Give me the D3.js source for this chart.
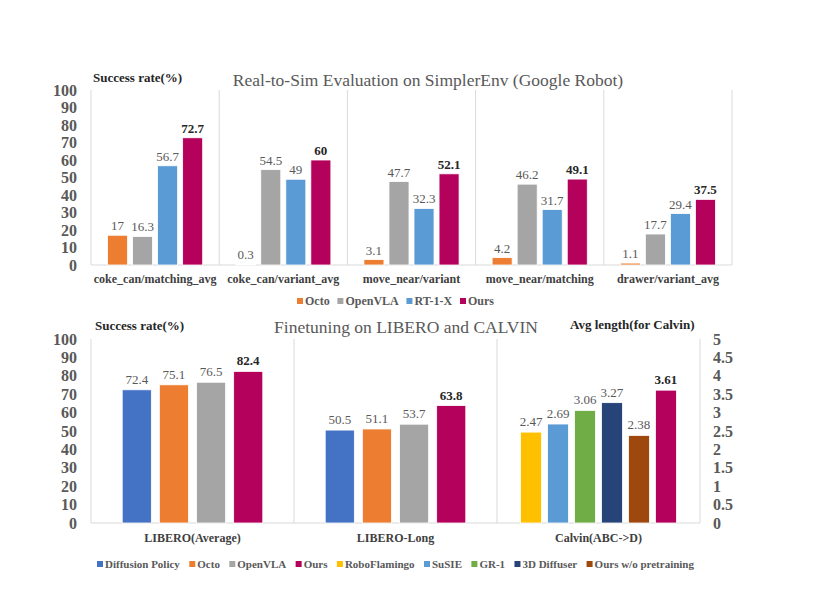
<!DOCTYPE html>
<html>
<head>
<meta charset="utf-8">
<script src="https://cdn.jsdelivr.net/npm/d3@7"></script>
<style>
  body { margin: 0; background: #fff; }
  svg text { font-family: "Liberation Serif", "Times New Roman", serif; }
</style>
</head>
<body>
<svg id="chart" width="824" height="615"></svg>
<script>
// ---- top chart data (SimplerEnv) ----
const topCategories = ["coke_can/matching_avg", "coke_can/variant_avg", "move_near/variant", "move_near/matching", "drawer/variant_avg"]
const topSeries = ["Octo", "OpenVLA", "RT-1-X", "Ours"]
const octoTop = [17, 0.3, 3.1, 4.2, 1.1]
const openvlaTop = [16.3, 54.5, 47.7, 46.2, 17.7]
const rt1xTop = [56.7, 49, 32.3, 31.7, 29.4]
const oursTop = [72.7, 60, 52.1, 49.1, 37.5]
const topTicks = [0, 10, 20, 30, 40, 50, 60, 70, 80, 90, 100]

// ---- bottom chart data (LIBERO / CALVIN) ----
const bottomCategories = ["LIBERO(Average)", "LIBERO-Long", "Calvin(ABC->D)"]
const liberoSeries = ["Diffusion Policy", "Octo", "OpenVLA", "Ours"]
const diffusionLibero = [72.4, 50.5]
const octoLibero = [75.1, 51.1]
const openvlaLibero = [76.5, 53.7]
const oursLibero = [82.4, 63.8]
const calvinSeries = ["RoboFlamingo", "SuSIE", "GR-1", "3D Diffuser", "Ours w/o pretraining", "Ours"]
const calvinValues = [2.47, 2.69, 3.06, 3.27, 2.38, 3.61]
const calvinTicks = [0, 0.5, 1, 1.5, 2, 2.5, 3, 3.5, 4, 4.5, 5]
const bottomLegend = ["Diffusion Policy", "Octo", "OpenVLA", "Ours", "RoboFlamingo", "SuSIE", "GR-1", "3D Diffuser", "Ours w/o pretraining"]

const colors = {
    "Octo": "#ED7D31",
    "OpenVLA": "#A5A5A5",
    "RT-1-X": "#5B9BD5",
    "Ours": "#B4015B",
    "Diffusion Policy": "#4472C4",
    "RoboFlamingo": "#FFC000",
    "SuSIE": "#5B9BD5",
    "GR-1": "#70AD47",
    "3D Diffuser": "#264478",
    "Ours w/o pretraining": "#9E480E"
}

const labelGray = "#595959"
const lineGray = "#d9d9d9"
const svg = d3.select("#chart")

function drawLeftAxis(y, ticks, x) {
    const ax = svg.append("g")
        .attr("transform", `translate(${x},0)`)
        .call(d3.axisLeft(y).tickValues(ticks).tickSize(0).tickPadding(14))
    ax.select(".domain").remove()
    ax.selectAll("text")
        .attr("font-size", 16)
        .attr("font-weight", "bold")
        .attr("fill", labelGray)
    return ax
}

function drawLegend(items, x0, x1, yc, fontSize) {
    const g = svg.append("g")
    const nodes = items.map(name => {
        const it = g.append("g")
        it.append("rect").attr("width", 6).attr("height", 6).attr("y", -3).attr("fill", colors[name])
        const t = it.append("text")
            .attr("x", 8).attr("dy", "0.35em")
            .attr("font-size", fontSize).attr("font-weight", "bold")
            .attr("fill", labelGray).text(name)
        return { it, w: 8 + t.node().getComputedTextLength() }
    })
    const total = d3.sum(nodes, d => d.w)
    const gap = (x1 - x0 - total) / (items.length - 1)
    let cx = x0
    nodes.forEach(n => {
        n.it.attr("transform", `translate(${cx},${yc})`)
        cx += n.w + gap
    })
}

// ================= TOP CHART =================
const topY = d3.scaleLinear().domain([0, 100]).range([265, 90])
const topX = d3.scaleBand().domain(topCategories).range([91, 732])
const topInner = d3.scaleBand().domain(topSeries).range([0, topX.bandwidth()])
    .paddingInner(0.2).paddingOuter(0.66)
const topValues = { "Octo": octoTop, "OpenVLA": openvlaTop, "RT-1-X": rt1xTop, "Ours": oursTop }

// separators
svg.append("g").selectAll("line")
    .data(topCategories.concat(["end"]))
    .join("line")
    .attr("x1", (d, i) => i < topCategories.length ? topX(d) : topX.range()[1])
    .attr("x2", (d, i) => i < topCategories.length ? topX(d) : topX.range()[1])
    .attr("y1", topY(100)).attr("y2", topY(0))
    .attr("stroke", lineGray).attr("stroke-width", 1)
svg.append("line")
    .attr("x1", 91).attr("x2", 732).attr("y1", topY(0)).attr("y2", topY(0))
    .attr("stroke", lineGray)

drawLeftAxis(topY, topTicks, 91)

const topData = []
topCategories.forEach((c, i) => topSeries.forEach(s => topData.push({ c, s, v: topValues[s][i] })))

svg.append("g").selectAll("rect")
    .data(topData)
    .join("rect")
    .attr("x", d => topX(d.c) + topInner(d.s))
    .attr("width", topInner.bandwidth())
    .attr("y", d => topY(d.v))
    .attr("height", d => topY(0) - topY(d.v))
    .attr("fill", d => colors[d.s])
    .attr("stroke", "#fff").attr("stroke-width", 0.8)

svg.append("g").selectAll("text")
    .data(topData)
    .join("text")
    .attr("x", d => topX(d.c) + topInner(d.s) + topInner.bandwidth() / 2)
    .attr("y", d => topY(d.v) - 5)
    .attr("text-anchor", "middle")
    .attr("font-size", 13)
    .attr("font-weight", d => d.s === "Ours" ? "bold" : "normal")
    .attr("fill", d => d.s === "Ours" ? "#262626" : labelGray)
    .text(d => d.v)

svg.append("g").selectAll("text")
    .data(topCategories)
    .join("text")
    .attr("x", d => topX(d) + topX.bandwidth() / 2)
    .attr("y", 283)
    .attr("text-anchor", "middle")
    .attr("font-size", 12).attr("font-weight", "bold")
    .attr("fill", "#404040")
    .text(d => d)

svg.append("text").attr("x", 93).attr("y", 82)
    .attr("font-size", 13).attr("font-weight", "bold").attr("fill", "#262626")
    .text("Success rate(%)")
svg.append("text").attr("x", 428).attr("y", 86).attr("text-anchor", "middle")
    .attr("font-size", 17.5).attr("fill", labelGray)
    .text("Real-to-Sim Evaluation on SimplerEnv (Google Robot)")

drawLegend(topSeries, 297, 494, 301, 12)

// ================= BOTTOM CHART =================
const botY = d3.scaleLinear().domain([0, 100]).range([523, 339])
const calY = d3.scaleLinear().domain([0, 5]).range([523, 339])
const botX = d3.scaleBand().domain(bottomCategories).range([91, 700])
const libInner = d3.scaleBand().domain(liberoSeries).range([0, botX.bandwidth()])
    .paddingInner(0.216).paddingOuter(0.84)
const calInner = d3.scaleBand().domain(calvinSeries).range([0, botX.bandwidth()])
    .paddingInner(0.22).paddingOuter(0.87)
const libValues = { "Diffusion Policy": diffusionLibero, "Octo": octoLibero, "OpenVLA": openvlaLibero, "Ours": oursLibero }

svg.append("g").selectAll("line")
    .data([91, botX(bottomCategories[1]), botX(bottomCategories[2]), 700])
    .join("line")
    .attr("x1", d => d).attr("x2", d => d)
    .attr("y1", botY(100)).attr("y2", botY(0))
    .attr("stroke", lineGray)
svg.append("line")
    .attr("x1", 91).attr("x2", 700).attr("y1", botY(0)).attr("y2", botY(0))
    .attr("stroke", lineGray)

drawLeftAxis(botY, topTicks, 91)
const rax = svg.append("g")
    .attr("transform", "translate(700,0)")
    .call(d3.axisRight(calY).tickValues(calvinTicks).tickSize(0).tickPadding(13).tickFormat(d => d))
rax.select(".domain").remove()
rax.selectAll("text")
    .attr("font-size", 16).attr("font-weight", "bold").attr("fill", labelGray)

const botData = []
bottomCategories.slice(0, 2).forEach((c, i) => liberoSeries.forEach(s =>
    botData.push({ c, s, v: libValues[s][i], x: botX(c) + libInner(s), w: libInner.bandwidth(), y: botY })))
calvinSeries.forEach((s, i) =>
    botData.push({ c: bottomCategories[2], s, v: calvinValues[i], x: botX(bottomCategories[2]) + calInner(s), w: calInner.bandwidth(), y: calY }))

svg.append("g").selectAll("rect")
    .data(botData)
    .join("rect")
    .attr("x", d => d.x)
    .attr("width", d => d.w)
    .attr("y", d => d.y(d.v))
    .attr("height", d => d.y(0) - d.y(d.v))
    .attr("fill", d => colors[d.s])
    .attr("stroke", "#fff").attr("stroke-width", 0.8)

svg.append("g").selectAll("text")
    .data(botData)
    .join("text")
    .attr("x", d => d.x + d.w / 2)
    .attr("y", d => d.y(d.v) - 6)
    .attr("text-anchor", "middle")
    .attr("font-size", 13)
    .attr("font-weight", d => d.s === "Ours" ? "bold" : "normal")
    .attr("fill", d => d.s === "Ours" ? "#262626" : labelGray)
    .text(d => d.v)

svg.append("g").selectAll("text")
    .data(bottomCategories)
    .join("text")
    .attr("x", d => botX(d) + botX.bandwidth() / 2)
    .attr("y", 542)
    .attr("text-anchor", "middle")
    .attr("font-size", 12).attr("font-weight", "bold")
    .attr("fill", "#404040")
    .text(d => d)

svg.append("text").attr("x", 95).attr("y", 330)
    .attr("font-size", 13).attr("font-weight", "bold").attr("fill", "#262626")
    .text("Success rate(%)")
svg.append("text").attr("x", 406).attr("y", 333).attr("text-anchor", "middle")
    .attr("font-size", 17.5).attr("fill", labelGray)
    .text("Finetuning on LIBERO and CALVIN")
svg.append("text").attr("x", 570).attr("y", 329)
    .attr("font-size", 13).attr("font-weight", "bold").attr("fill", "#262626")
    .text("Avg length(for Calvin)")

drawLegend(bottomLegend, 97, 694, 564, 11)
</script>
</body>
</html>
